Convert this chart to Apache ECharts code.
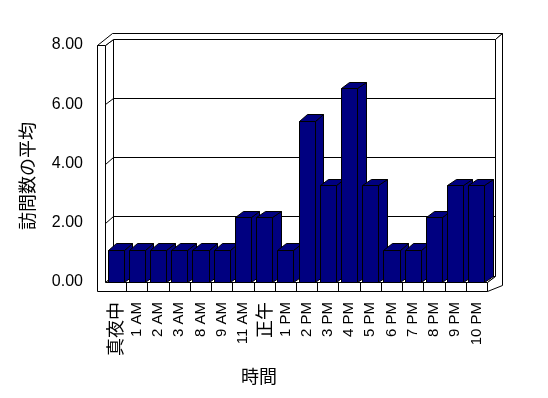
<!DOCTYPE html>
<html>
<head>
<meta charset="utf-8">
<script src="https://cdn.jsdelivr.net/npm/echarts@6/dist/echarts.min.js"></script>
<style>
  html, body { margin: 0; padding: 0; background: #fff; }
  #chart { width: 548px; height: 398px; }
</style>
</head>
<body>
<div id="chart"></div>
<script>
var hours = ['真夜中', '1 AM', '2 AM', '3 AM', '8 AM', '9 AM', '11 AM', '正午', '1 PM',
  '2 PM', '3 PM', '4 PM', '5 PM', '6 PM', '7 PM', '8 PM', '9 PM', '10 PM'];
var visits = [1.09, 1.09, 1.09, 1.09, 1.09, 1.09, 2.18, 2.18, 1.09,
  5.45, 3.27, 6.55, 3.27, 1.09, 1.09, 2.18, 3.27, 3.27];
var yTicks = [0, 2, 4, 6, 8];

// 奥行き (3D look)
var DX = 8.4, DY = -6.3;   // depth of the plot box
var W = 8, F = 9;          // wall / floor thickness
var TDX = 6.6, TDY = -5.7; // back wall thickness

var myChart = echarts.init(document.getElementById('chart'));

function p(v) { return Math.round(v) + 0.5; }
function pts(arr) { return arr.map(function (a) { return [p(a[0]), p(a[1])]; }); }

function poly(list, fill) {
  return {
    type: 'polygon',
    shape: { points: pts(list) },
    style: { fill: fill || '#fff', stroke: '#000', lineWidth: 1 }
  };
}

function renderFrame(params, api) {
  var cs = params.coordSys;
  var x0 = cs.x, x1 = cs.x + cs.width, y0 = cs.y, yb = cs.y + cs.height;
  var bw = cs.width / hours.length;
  var ch = [];
  // back plane
  ch.push(poly([[x0 + DX, y0 + DY], [x1 + DX, y0 + DY], [x1 + DX, yb + DY], [x0 + DX, yb + DY]]));
  // left wall inside
  ch.push(poly([[x0, y0], [x0 + DX, y0 + DY], [x0 + DX, yb + DY], [x0, yb]]));
  // floor
  ch.push(poly([[x0, yb], [x1, yb], [x1 + DX, yb + DY], [x0 + DX, yb + DY]]));
  // grid lines
  yTicks.slice(1, -1).forEach(function (v) {
    var y = api.coord([0, v])[1];
    ch.push({
      type: 'polyline',
      shape: { points: pts([[x0 - W, y], [x0, y], [x0 + DX, y + DY], [x1 + DX, y + DY]]) },
      style: { stroke: '#000', lineWidth: 1, fill: null }
    });
  });
  // front of left wall + floor
  ch.push(poly([[x0 - W, y0], [x0, y0], [x0, yb], [x1, yb], [x1, yb + F], [x0 - W, yb + F]]));
  // top of walls
  ch.push(poly([[x0 - W, y0], [x0, y0], [x0 + DX, y0 + DY], [x1 + DX, y0 + DY],
    [x1 + DX + TDX, y0 + DY + TDY], [x0 - W + DX + TDX, y0 + DY + TDY]]));
  // right side
  ch.push(poly([[x1, yb], [x1 + DX, yb + DY], [x1 + DX, y0 + DY], [x1 + DX + TDX, y0 + DY + TDY],
    [x1 + DX + TDX, yb + F + DY], [x1, yb + F]]));
  // category ticks on floor front
  for (var i = 1; i < hours.length; i++) {
    var x = x0 + i * bw;
    ch.push({
      type: 'line',
      shape: { x1: p(x), y1: p(yb), x2: p(x), y2: p(yb + F) },
      style: { stroke: '#000', lineWidth: 1 }
    });
  }
  return { type: 'group', children: ch };
}

function renderBar(params, api) {
  var c = api.coord([api.value(0), api.value(1)]);
  var b = api.coord([api.value(0), 0]);
  var hw = api.size([1, 0])[0] * 0.38;
  var l = c[0] - hw, r = c[0] + hw, t = c[1], bot = b[1];
  var navy = '#000080';
  return {
    type: 'group',
    children: [
      poly([[r, t], [r + DX, t + DY], [r + DX, bot + DY], [r, bot]], navy),
      poly([[l, t], [r, t], [r + DX, t + DY], [l + DX, t + DY]], navy),
      poly([[l, t], [r, t], [r, bot], [l, bot]], navy)
    ]
  };
}

var font = '"Liberation Sans", Arial, "Noto Sans CJK JP", sans-serif';
var cjk = '"Noto Sans CJK JP", sans-serif';

option = {
  backgroundColor: '#fff',
  animation: false,
  grid: { left: 105, right: 61, top: 45, bottom: 116 },
  xAxis: {
    type: 'category',
    data: hours,
    axisLine: { show: false },
    axisTick: { show: false },
    axisLabel: {
      rotate: 90,
      margin: 20,
      color: '#000',
      fontSize: 15,
      fontFamily: font,
      interval: 0,
      formatter: function (v) {
        return /[^\x00-\x7f]/.test(v) ? '{j|' + v + '}' : v;
      },
      rich: {
        j: { fontSize: 18, fontFamily: cjk, color: '#000' }
      }
    }
  },
  yAxis: {
    type: 'value',
    min: 0,
    max: 8,
    interval: 2,
    axisLine: { show: false },
    axisTick: { show: false },
    splitLine: { show: false },
    axisLabel: {
      margin: 22,
      color: '#000',
      fontSize: 16,
      fontFamily: font,
      formatter: function (v) { return v.toFixed(2); }
    }
  },
  graphic: [
    {
      type: 'text', x: 27, y: 176, rotation: Math.PI / 2,
      style: { text: '訪問数の平均', font: '18px "Noto Sans CJK JP"', fill: '#000', align: 'center', verticalAlign: 'middle' }
    },
    {
      type: 'text', x: 259, y: 376,
      style: { text: '時間', font: '18px "Noto Sans CJK JP"', fill: '#000', align: 'center', verticalAlign: 'middle' }
    }
  ],
  series: [
    {
      name: 'frame',
      type: 'custom',
      renderItem: renderFrame,
      data: [[0, 0]],
      silent: true
    },
    {
      name: '訪問数の平均',
      type: 'custom',
      renderItem: renderBar,
      encode: { x: 0, y: 1 },
      data: visits.map(function (v, i) { return [i, v]; })
    }
  ]
};

myChart.setOption(option);
</script>
</body>
</html>
